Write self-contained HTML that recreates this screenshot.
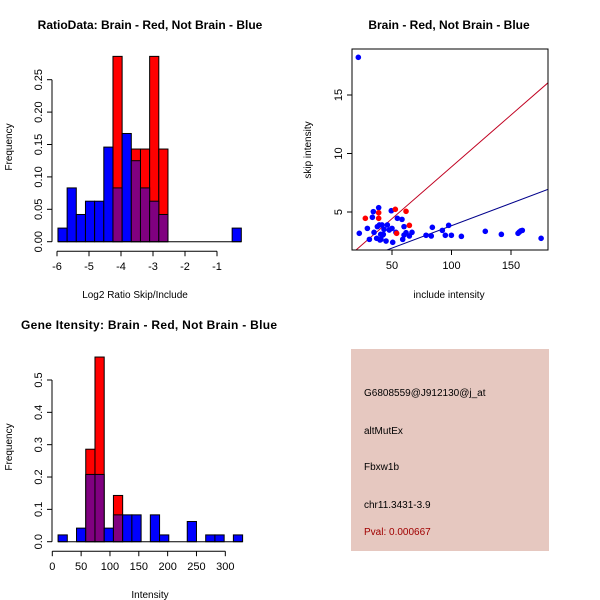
<!DOCTYPE html>
<html><head><meta charset="utf-8">
<style>
html,body{margin:0;padding:0;background:#fff;}
svg{display:block;font-family:"Liberation Sans",sans-serif;}
</style></head>
<body>
<svg id="c" width="600" height="600" viewBox="0 0 600 600">
<rect x="0" y="0" width="600" height="600" fill="#fff"/>
<text x="150" y="29" font-size="12" font-weight="bold" text-anchor="middle">RatioData: Brain - Red, Not Brain - Blue</text>
<text x="135" y="298" font-size="10" text-anchor="middle">Log2 Ratio Skip/Include</text>
<text x="12" y="147" font-size="10" text-anchor="middle" transform="rotate(-90 12 147)">Frequency</text>
<text x="449" y="29" font-size="12" font-weight="bold" text-anchor="middle">Brain - Red, Not Brain - Blue</text>
<text x="449" y="298" font-size="10" text-anchor="middle">include intensity</text>
<text x="311" y="150" font-size="10" text-anchor="middle" transform="rotate(-90 311 150)">skip intensity</text>
<text x="149" y="329" font-size="12" font-weight="bold" text-anchor="middle" textLength="256">Gene Itensity: Brain - Red, Not Brain - Blue</text>
<text x="150" y="598" font-size="10" text-anchor="middle">Intensity</text>
<text x="12" y="447" font-size="10" text-anchor="middle" transform="rotate(-90 12 447)">Frequency</text>
<g>
<rect x="351" y="349" width="198" height="202" fill="#e6c8c0"/>
<text x="364" y="396" font-size="10">G6808559@J912130@j_at</text>
<text x="364" y="434" font-size="10">altMutEx</text>
<text x="364" y="470" font-size="10">Fbxw1b</text>
<text x="364" y="508" font-size="10">chr11.3431-3.9</text>
<text x="364" y="535" font-size="10" fill="#a00000">Pval: 0.000667</text>
</g>
<g id="g1"></g><g id="g2"></g><g id="g3"></g>
</svg>
<script>
// Ratio histogram data
const ratioBinStart = -5.97, ratioBinWidth = 0.2865;
const ratioBlue = [0.021,0.083,0.042,0.0625,0.0625,0.146,0.083,0.167,0.125,0.083,0.0625,0.042,0,0,0,0,0,0,0,0.021];
const ratioRed  = [0,0,0,0,0,0,0.286,0,0.143,0.143,0.286,0.143,0,0,0,0,0,0,0,0];
const ratioXTicks = [-6,-5,-4,-3,-2,-1];
const ratioYTicks = ["0.00","0.05","0.10","0.15","0.20","0.25"];
// Gene intensity histogram data
const geneBinStart = 10, geneBinWidth = 16;
const geneBlue = [0.021,0,0.042,0.208,0.208,0.042,0.083,0.083,0.083,0,0.083,0.021,0,0,0.0625,0,0.021,0.021,0,0.021];
const geneRed  = [0,0,0,0.286,0.571,0,0.143,0,0,0,0,0,0,0,0,0,0,0,0,0];
const geneXTicks = [0,50,100,150,200,250,300];
const geneYTicks = ["0.0","0.1","0.2","0.3","0.4","0.5"];
// Scatter data
const blueX = [21.7,22.5,29.3,31,33.5,34.3,34.9,37.1,37.7,38.8,39.4,39.9,40.5,40.7,41.6,42.2,42.7,43.3,45,46.1,47.7,49.4,50,50.6,53.3,54.5,58.4,59,60.1,60.1,61.8,64.6,66.8,78.6,83,83.9,92.3,94.8,97.6,99.9,108.3,128.4,141.9,155.9,157,158.1,159.5,175.3];
const blueY = [18.22,3.18,3.6,2.66,4.55,5.03,3.26,2.75,3.75,5.37,3.89,2.61,3.09,2.66,3.89,3.03,3.09,3.52,2.52,3.89,3.46,5.11,3.6,2.41,3.26,4.46,4.37,2.66,3.75,3.03,3.23,2.95,3.26,3.01,2.95,3.69,3.43,3.01,3.86,3.01,2.92,3.35,3.09,3.18,3.29,3.38,3.43,2.75];
const redX = [27.6,38.8,38.8,52.8,53.9,61.8,64.6];
const redY = [4.46,4.46,4.94,5.23,3.18,5.06,3.86];
const redSlope = 0.0886, blueSlope = 0.0383;
const scXTicks = [50,100,150];
const scYTicks = [5,10,15];

const NS="http://www.w3.org/2000/svg";
function mk(parent,tag,attrs){const e=document.createElementNS(NS,tag);for(const k in attrs)e.setAttribute(k,attrs[k]);parent.appendChild(e);return e;}

function hist(g,prefix,bs,bw,blue,red,xs,ys,xt,yt){
  red.forEach((v,i)=>{ if(v<=0)return;
    const x0=xs(bs+i*bw),x1=xs(bs+(i+1)*bw);
    const r=mk(g,'rect',{x:x0,y:ys(v),width:x1-x0,height:ys(0)-ys(v),fill:'#ff0000',stroke:'#000','stroke-width':1});
    
    
  });
  blue.forEach((v,i)=>{ if(v<=0)return;
    const x0=xs(bs+i*bw),x1=xs(bs+(i+1)*bw);
    const r=mk(g,'rect',{x:x0,y:ys(v),width:x1-x0,height:ys(0)-ys(v),fill:red[i]>0?'#800080':'#0000ff',stroke:'#000','stroke-width':1});
    
    
  });
  mk(g,'line',{x1:xs(bs),x2:xs(bs+blue.length*bw),y1:ys(0),y2:ys(0),stroke:'#000'});
  const ax=ys(0)+9.5;
  mk(g,'line',{x1:xs(xt[0]),x2:xs(xt[xt.length-1]),y1:ax,y2:ax,stroke:'#000'});
  xt.forEach(t=>{mk(g,'line',{x1:xs(t),x2:xs(t),y1:ax,y2:ax+5,stroke:'#000'});
    const tx=mk(g,'text',{x:xs(t),y:ax+19,'font-size':11,'text-anchor':'middle'});tx.textContent=t;
    
    });
  const yx=52;
  mk(g,'line',{x1:yx,x2:yx,y1:ys(0),y2:ys(parseFloat(yt[yt.length-1])),stroke:'#000'});
  yt.forEach(t=>{const v=parseFloat(t);mk(g,'line',{x1:yx-5,x2:yx,y1:ys(v),y2:ys(v),stroke:'#000'});
    const tx=mk(g,'text',{x:yx-10,y:ys(v),'font-size':11,'text-anchor':'middle',transform:`rotate(-90 ${yx-10} ${ys(v)})`});tx.textContent=t;
    
    });
}
hist(document.getElementById('g1'),'ratio',ratioBinStart,ratioBinWidth,ratioBlue,ratioRed,
  v=>57+(v+6)*32, v=>241.7-v*648, ratioXTicks, ratioYTicks);
hist(document.getElementById('g2'),'gene',geneBinStart,geneBinWidth,geneBlue,geneRed,
  v=>52.3+v*0.5767, v=>541.7-v*323.4, geneXTicks, geneYTicks);

(function(){
  const g=document.getElementById('g3');
  const xs=v=>332.5+v*1.19, ys=v=>270.5-v*11.7;
  const L=352,R=548,T=49,B=250;
  mk(g,'clipPath',{id:'clp'});
  mk(document.getElementById('clp'),'rect',{x:L,y:T,width:R-L,height:B-T});
  const cg=mk(g,'g',{'clip-path':'url(#clp)'});
  const x0=(L-332.5)/1.19, x1=(R-332.5)/1.19;
  const rl=mk(cg,'line',{x1:xs(x0),y1:ys(x0*redSlope),x2:xs(x1),y2:ys(x1*redSlope),stroke:'#c00020','stroke-width':1});
  
  
  const bl=mk(cg,'line',{x1:xs(x0),y1:ys(x0*blueSlope),x2:xs(x1),y2:ys(x1*blueSlope),stroke:'#00008b','stroke-width':1});
  
  
  blueX.forEach((x,i)=>{const c=mk(cg,'circle',{cx:xs(x),cy:ys(blueY[i]),r:2.8,fill:'#0000ff'});
    
    });
  redX.forEach((x,i)=>{const c=mk(cg,'circle',{cx:xs(x),cy:ys(redY[i]),r:2.8,fill:'#ff0000'});
    
    });
  const fr=mk(g,'rect',{x:L,y:T,width:R-L,height:B-T,fill:'none',stroke:'#000'});
  
  
  scXTicks.forEach(t=>{mk(g,'line',{x1:xs(t),x2:xs(t),y1:B,y2:B+5,stroke:'#000'});
    const tx=mk(g,'text',{x:xs(t),y:B+19,'font-size':11,'text-anchor':'middle'});tx.textContent=t;
    
    });
  scYTicks.forEach(t=>{mk(g,'line',{x1:L-5,x2:L,y1:ys(t),y2:ys(t),stroke:'#000'});
    const tx=mk(g,'text',{x:L-10,y:ys(t),'font-size':11,'text-anchor':'middle',transform:`rotate(-90 ${L-10} ${ys(t)})`});tx.textContent=t;
    
    });
})();
</script>
</body></html>
